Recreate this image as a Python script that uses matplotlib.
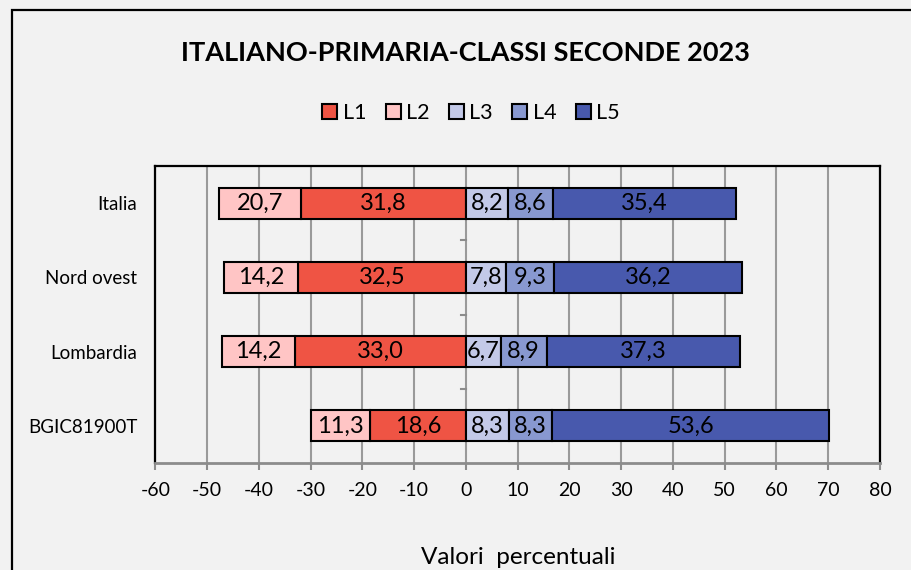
from matplotlib import pyplot as plt
from matplotlib.patches import Rectangle, Patch
import numpy as np

# dati (valori percentuali)
categorie = ["Italia", "Nord ovest", "Lombardia", "BGIC81900T"]
l1 = [31.8, 32.5, 33.0, 18.6]
l2 = [16.0, 14.2, 14.2, 11.3]           # lunghezza disegnata delle barre
l2_etichette = ["20,7", "14,2", "14,2", "11,3"]  # etichette come nel grafico
l3 = [8.2, 7.8, 6.7, 8.3]
l4 = [8.6, 9.3, 8.9, 8.3]
l5 = [35.4, 36.2, 37.3, 53.6]
livelli = ["L1", "L2", "L3", "L4", "L5"]
colori = ["#EF5444", "#FFC5C5", "#C3C9E8", "#8898D0", "#4859AD"]
xticks = list(range(-60, 81, 10))

plt.rcParams['font.family'] = ['Lato', 'DejaVu Sans']
bg = "#F2F2F2"

fig = plt.figure(figsize=(9.12, 5.7), dpi=100, facecolor=bg)
ax = fig.add_axes([155.5 / 912, 107 / 570, 724.5 / 912, 297 / 570])
ax.set_facecolor(bg)

# cornice esterna
fig.patches.append(Rectangle((12 / 912, -0.1), 1.0, 1.1 - 10 / 570, transform=fig.transFigure,
                             fill=False, edgecolor="black", linewidth=1.6, zorder=0))

y = np.arange(len(categorie))
h = 0.42
lw = 1.5

def fmt(v):
    return ("%.1f" % v).replace(".", ",")

# lato sinistro: L1 vicino allo zero, poi L2
ax.barh(y, [-v for v in l1], height=h, color=colori[0], edgecolor="black", linewidth=lw, zorder=3)
ax.barh(y, [-v for v in l2], left=[-v for v in l1], height=h, color=colori[1],
        edgecolor="black", linewidth=lw, zorder=3)
# lato destro
ax.barh(y, l3, height=h, color=colori[2], edgecolor="black", linewidth=lw, zorder=3)
left4 = np.array(l3)
ax.barh(y, l4, left=left4, height=h, color=colori[3], edgecolor="black", linewidth=lw, zorder=3)
left5 = left4 + np.array(l4)
ax.barh(y, l5, left=left5, height=h, color=colori[4], edgecolor="black", linewidth=lw, zorder=3)

fs = 17
for i in range(len(categorie)):
    ax.text(-l1[i] / 2, y[i], fmt(l1[i]), ha="center", va="center", fontsize=fs, zorder=4)
    ax.text(-l1[i] - l2[i] / 2, y[i], l2_etichette[i], ha="center", va="center", fontsize=fs, zorder=4)
    ax.text(l3[i] / 2, y[i], fmt(l3[i]), ha="center", va="center", fontsize=fs, zorder=4)
    ax.text(left4[i] + l4[i] / 2, y[i], fmt(l4[i]), ha="center", va="center", fontsize=fs, zorder=4)
    ax.text(left5[i] + l5[i] / 2, y[i], fmt(l5[i]), ha="center", va="center", fontsize=fs, zorder=4)

ax.set_xlim(-60, 80)
ax.set_ylim(len(categorie) - 0.5, -0.5)
ax.set_xticks(xticks)
ax.set_xticklabels([str(t) for t in xticks], fontsize=14)
ax.set_yticks(y)
ax.set_yticklabels(categorie, fontsize=13.5)
ax.tick_params(axis="y", length=0, pad=13)
ax.tick_params(axis="x", length=5, width=1.5, color="#8C8C8C", pad=9)
ax.grid(axis="x", color="#9A9A9A", linewidth=1.5, zorder=1)

for s in ["left", "top", "right"]:
    ax.spines[s].set_color("black")
    ax.spines[s].set_linewidth(1.6)
ax.spines["bottom"].set_color("#8C8C8C")
ax.spines["bottom"].set_linewidth(2)

# piccoli segni tra le categorie sull'asse dello zero
for b in y[:-1] + 0.5:
    ax.plot([-1.0, 0], [b, b], color="#8C8C8C", linewidth=1.5, zorder=2)

ax.set_xlabel("Valori  percentuali", fontsize=17.5)
ax.xaxis.label.set_va("center")
ax.xaxis.set_label_coords((518 - 155.5) / 724.5, (463 - 558) / 297)

fig.text(465 / 912, 1 - 53 / 570, "ITALIANO-PRIMARIA-CLASSI SECONDE 2023", ha="center", va="center",
         fontsize=19.5, fontweight="bold")

handles = [Patch(facecolor=c, edgecolor="black", linewidth=1.5) for c in colori]
fig.legend(handles, livelli, loc="center", bbox_to_anchor=(471 / 912, 1 - 113 / 570), ncol=5,
           frameon=False, fontsize=15.5, handlelength=0.7, handleheight=0.7, handletextpad=0.25,
           columnspacing=0.9)

fig.savefig("out.png", dpi=100, facecolor=bg)
